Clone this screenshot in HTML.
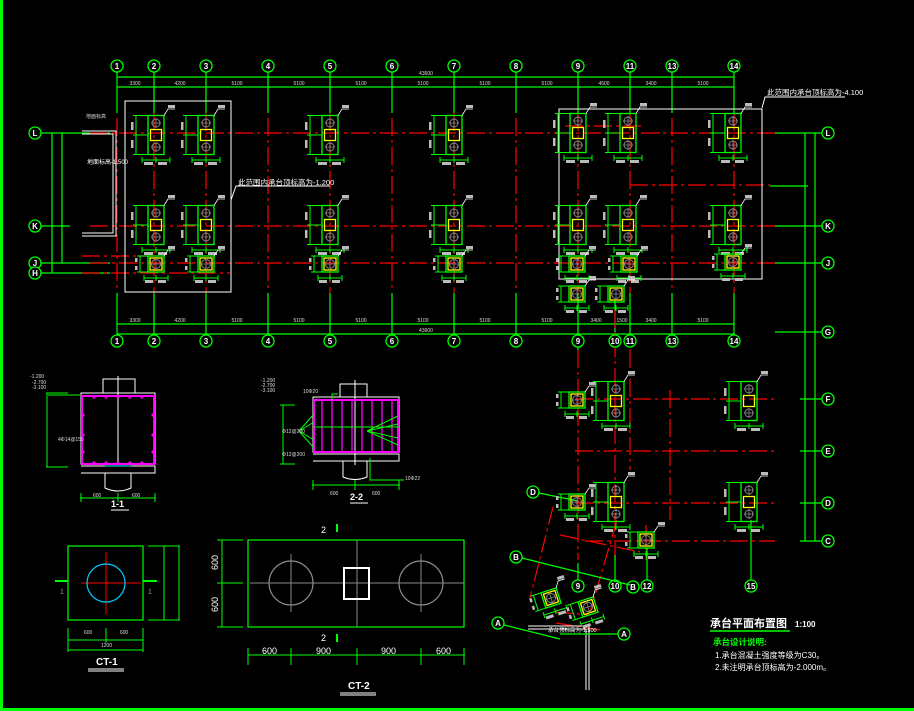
<!DOCTYPE html>
<html><head><meta charset="utf-8"><style>
html,body{margin:0;padding:0;background:#000;}
svg{display:block}
text{font-family:"Liberation Sans","Noto Sans CJK SC",sans-serif;}
</style></head><body>
<svg width="914" height="711" viewBox="0 0 914 711" xmlns="http://www.w3.org/2000/svg">
<defs>
<g id="ct2">
 <rect x="-8" y="-19.5" width="16" height="39" fill="none" stroke="#0f0" stroke-width="1.3"/>
 <rect x="-5.5" y="-5.5" width="11" height="11" fill="none" stroke="#ff0" stroke-width="1.3"/>
 <circle cx="0" cy="-12" r="4" fill="none" stroke="#888" stroke-width="1"/>
 <circle cx="0" cy="12" r="4" fill="none" stroke="#888" stroke-width="1"/>
 <path d="M-5 -12H5M0 -17V-7M-5 12H5M0 7V17" stroke="#888" stroke-width="0.8"/>
 <path d="M-20 -19.5V19.5M-23 -19.5H-8M-23 0H-8M-23 19.5H-8M-14 25H14M-14 22V28M0 22V28M14 22V28" stroke="#0f0" stroke-width="1"/>
 <rect x="-25" y="-13" width="2.5" height="8" fill="#bbb"/><rect x="-25" y="5" width="2.5" height="8" fill="#bbb"/>
 <rect x="-12" y="27" width="9" height="3" fill="#bbb"/><rect x="2" y="27" width="9" height="3" fill="#bbb"/>
 <path d="M8 -19.5L12 -26H19" stroke="#fff" stroke-width="0.8" fill="none"/>
 <rect x="12" y="-30" width="7" height="3" fill="#bbb"/>
</g>
<g id="ct1">
 <rect x="-8" y="-8" width="16" height="16" fill="none" stroke="#0f0" stroke-width="1.3"/>
 <rect x="-6" y="-6" width="12" height="12" fill="none" stroke="#ff0" stroke-width="1.3"/>
 <circle cx="0" cy="0" r="4.5" fill="none" stroke="#888" stroke-width="1"/>
 <path d="M-6 0H6M0 -6V6" stroke="#888" stroke-width="0.8"/>
 <path d="M-16 -8V8M-19 -8H-8M-19 8H-8M-12 14H12M-12 11V17M0 11V17M12 11V17" stroke="#0f0" stroke-width="1"/>
 <rect x="-21" y="-6" width="2.5" height="4" fill="#bbb"/><rect x="-21" y="2" width="2.5" height="4" fill="#bbb"/>
 <rect x="-11" y="16" width="8" height="3" fill="#bbb"/><rect x="2" y="16" width="8" height="3" fill="#bbb"/>
 <path d="M8 -8L12 -14H19" stroke="#fff" stroke-width="0.8" fill="none"/>
 <rect x="12" y="-18" width="7" height="3" fill="#bbb"/>
</g>
<g id="cl"><circle r="6" fill="#000" stroke="#0f0" stroke-width="1.3"/></g>
</defs>

<rect x="0" y="0" width="3" height="711" fill="#0f0"/>
<rect x="0" y="708" width="914" height="3" fill="#0f0"/>

<g stroke="#0f0" stroke-width="1.2">
 <path d="M117 77H734M117 87H734M117 324H734M117 334H734"/>
 <path d="M117 72V113M154 72V113M206 72V113M268 72V113M330 72V113M392 72V113M454 72V113M516 72V113M578 72V113M630 72V113M672 72V113M734 72V113"/>
 <path d="M117 293V335M154 293V335M206 293V335M268 293V335M330 293V335M392 293V335M454 293V335M516 293V335M578 293V350M615 300V335M630 293V335M672 293V335M734 293V335"/>
 <path d="M41 133H110M41 226H70M41 263H110M41 273H110M52 133V273M62 133V263"/>
 <path d="M775 133H822M775 226H822M775 263H822M775 332H822M800 399H822M800 451H822M800 503H822M800 541H822M805 133V541M815 133V541"/>
 <path d="M770 186H808"/>
</g>
<g stroke="#f00" stroke-width="1.2" stroke-dasharray="18 4 3 4" fill="none">
 <path d="M90 133H775M90 226H775M90 263H775M82 273H230M82 256H155"/>
 <path d="M117 118V292M154 113V293M206 113V293M268 118V292M330 113V293M392 118V292M454 113V293M516 118V292M578 113V293M630 113V293M672 118V292M734 113V293"/>
 <path d="M565 126H643M630 185H770"/>
 <path d="M578 350V560M615 310V560M630 350V470M646 525V560M670 390V520"/>
 <path d="M575 399H775M575 451H775M575 503H775M585 541H775"/>
 <path d="M553 507L530 598M617 520L590 612M555 612L590 615M556 623L600 630"/>
 <path d="M560 535L640 552"/>
</g>
<g stroke="#fff" fill="none" stroke-width="1">
 <rect x="125" y="101" width="106" height="191"/>
 <rect x="559" y="109" width="203" height="170"/>
 <path d="M82 131H116V236H82M82 134H113V233H82"/>
 <path d="M231 200L236 186H330M762 108L765 97H845"/>
 <path d="M528 626H589V690M528 629H586V690"/>
</g>
<g font-size="8" font-weight="bold" fill="#fff" text-anchor="middle">
 <use href="#cl" x="117" y="66"/><text x="117" y="69">1</text>
 <use href="#cl" x="154" y="66"/><text x="154" y="69">2</text>
 <use href="#cl" x="206" y="66"/><text x="206" y="69">3</text>
 <use href="#cl" x="268" y="66"/><text x="268" y="69">4</text>
 <use href="#cl" x="330" y="66"/><text x="330" y="69">5</text>
 <use href="#cl" x="392" y="66"/><text x="392" y="69">6</text>
 <use href="#cl" x="454" y="66"/><text x="454" y="69">7</text>
 <use href="#cl" x="516" y="66"/><text x="516" y="69">8</text>
 <use href="#cl" x="578" y="66"/><text x="578" y="69">9</text>
 <use href="#cl" x="630" y="66"/><text x="630" y="69">11</text>
 <use href="#cl" x="672" y="66"/><text x="672" y="69">13</text>
 <use href="#cl" x="734" y="66"/><text x="734" y="69">14</text>
 <use href="#cl" x="117" y="341"/><text x="117" y="344">1</text>
 <use href="#cl" x="154" y="341"/><text x="154" y="344">2</text>
 <use href="#cl" x="206" y="341"/><text x="206" y="344">3</text>
 <use href="#cl" x="268" y="341"/><text x="268" y="344">4</text>
 <use href="#cl" x="330" y="341"/><text x="330" y="344">5</text>
 <use href="#cl" x="392" y="341"/><text x="392" y="344">6</text>
 <use href="#cl" x="454" y="341"/><text x="454" y="344">7</text>
 <use href="#cl" x="516" y="341"/><text x="516" y="344">8</text>
 <use href="#cl" x="578" y="341"/><text x="578" y="344">9</text>
 <use href="#cl" x="615" y="341"/><text x="615" y="344">10</text>
 <use href="#cl" x="630" y="341"/><text x="630" y="344">11</text>
 <use href="#cl" x="672" y="341"/><text x="672" y="344">13</text>
 <use href="#cl" x="734" y="341"/><text x="734" y="344">14</text>
 <use href="#cl" x="35" y="133"/><text x="35" y="136">L</text>
 <use href="#cl" x="35" y="226"/><text x="35" y="229">K</text>
 <use href="#cl" x="35" y="263"/><text x="35" y="266">J</text>
 <use href="#cl" x="35" y="273"/><text x="35" y="276">H</text>
 <use href="#cl" x="828" y="133"/><text x="828" y="136">L</text>
 <use href="#cl" x="828" y="226"/><text x="828" y="229">K</text>
 <use href="#cl" x="828" y="263"/><text x="828" y="266">J</text>
 <use href="#cl" x="828" y="332"/><text x="828" y="335">G</text>
 <use href="#cl" x="828" y="399"/><text x="828" y="402">F</text>
 <use href="#cl" x="828" y="451"/><text x="828" y="454">E</text>
 <use href="#cl" x="828" y="503"/><text x="828" y="506">D</text>
 <use href="#cl" x="828" y="541"/><text x="828" y="544">C</text>
 <use href="#cl" x="578" y="586"/><text x="578" y="589">9</text>
 <use href="#cl" x="615" y="586"/><text x="615" y="589">10</text>
 <use href="#cl" x="633" y="587"/><text x="633" y="590">B</text>
 <use href="#cl" x="647" y="586"/><text x="647" y="589">12</text>
 <use href="#cl" x="751" y="586"/><text x="751" y="589">15</text>
 <use href="#cl" x="533" y="492"/><text x="533" y="495">D</text>
 <use href="#cl" x="516" y="557"/><text x="516" y="560">B</text>
 <use href="#cl" x="498" y="623"/><text x="498" y="626">A</text>
 <use href="#cl" x="624" y="634"/><text x="624" y="637">A</text>
</g>
<g stroke="#0f0" stroke-width="1.2">
 <path d="M539 493L578 501M522 558L630 585M504 625L560 639M560 634H618"/>
 <path d="M578 563V580M615 555V580M647 548V580M751 520V580"/>
</g>
<g font-size="5" fill="#ddd" text-anchor="middle">
 <text x="426" y="75">43600</text><text x="426" y="332">43600</text>
 <text x="135" y="85">3300</text><text x="180" y="85">4200</text><text x="237" y="85">5100</text><text x="299" y="85">5100</text><text x="361" y="85">5100</text><text x="423" y="85">5100</text><text x="485" y="85">5100</text><text x="547" y="85">5100</text><text x="604" y="85">4500</text><text x="651" y="85">3400</text><text x="703" y="85">5100</text>
 <text x="135" y="322">3300</text><text x="180" y="322">4200</text><text x="237" y="322">5100</text><text x="299" y="322">5100</text><text x="361" y="322">5100</text><text x="423" y="322">5100</text><text x="485" y="322">5100</text><text x="547" y="322">5100</text><text x="596" y="322">3400</text><text x="622" y="322">1500</text><text x="651" y="322">3400</text><text x="703" y="322">5100</text>
 <text x="96" y="118">地面标高</text>
</g>
<use href="#ct2" x="156" y="135"/><use href="#ct2" x="206" y="135"/><use href="#ct2" x="330" y="135"/><use href="#ct2" x="454" y="135"/><use href="#ct2" x="578" y="133"/><use href="#ct2" x="628" y="133"/><use href="#ct2" x="733" y="133"/>
<use href="#ct2" x="156" y="225"/><use href="#ct2" x="206" y="225"/><use href="#ct2" x="330" y="225"/><use href="#ct2" x="454" y="225"/><use href="#ct2" x="578" y="225"/><use href="#ct2" x="628" y="225"/><use href="#ct2" x="733" y="225"/>
<use href="#ct1" x="156" y="264"/><use href="#ct1" x="206" y="264"/><use href="#ct1" x="330" y="264"/><use href="#ct1" x="454" y="264"/><use href="#ct1" x="577" y="264"/><use href="#ct1" x="629" y="264"/><use href="#ct1" x="733" y="262"/>
<use href="#ct1" x="577" y="294"/><use href="#ct1" x="616" y="294"/>
<use href="#ct1" x="577" y="400"/><use href="#ct2" x="616" y="401"/><use href="#ct2" x="749" y="401"/>
<use href="#ct1" x="577" y="502"/><use href="#ct2" x="616" y="502"/><use href="#ct2" x="749" y="502"/>
<use href="#ct1" x="646" y="540"/>
<use href="#ct1" transform="translate(551 598) rotate(-18)"/>
<use href="#ct1" transform="translate(588 607) rotate(-18)"/>
<g fill="#fff" font-size="7">
 <text x="238" y="185" font-size="7.5">此范围内承台顶标高为-1.200</text>
 <text x="767" y="95" font-size="7.5">此范围内承台顶标高为-4.100</text>
 <text x="87" y="164" font-size="6">地面标高-1.500</text>
 <text x="548" y="632" font-size="5.5">承台顶标高为-1.500</text>
</g>
<text x="710" y="627" fill="#fff" font-size="11" font-weight="bold" font-family="Liberation Serif,Noto Serif CJK SC,serif">承台平面布置图</text>
<text x="795" y="627" fill="#fff" font-size="8" font-weight="bold">1:100</text>
<path d="M710 631H790" stroke="#0f0" stroke-width="1.5"/>
<text x="713" y="645" fill="#0f0" font-size="8.5" font-weight="bold">承台设计说明:</text>
<text x="715" y="658" fill="#fff" font-size="8">1.承台混凝土强度等级为C30。</text>
<text x="715" y="670" fill="#fff" font-size="8">2.未注明承台顶标高为-2.000m。</text>

<g fill="none">
 <path d="M103 393V379H135V393M118 376V462" stroke="#fff" stroke-width="1"/>
 <rect x="81" y="393" width="74" height="71" stroke="#fff" stroke-width="1"/>
 <rect x="82" y="396" width="72" height="68" stroke="#f0f" stroke-width="2"/>
 <path d="M81 466H155V473H81" stroke="#fff" stroke-width="1"/>
 <path d="M105 473V488Q118 494 131 488V473" stroke="#fff"/>
 <path d="M105 466H131" stroke="#0ff"/>
 <path d="M46 393H68M46 467H68M47 393V467M80 498H156M81 493V502M118 493V502M155 493V502M80 395H48" stroke="#0f0" stroke-width="1"/>
</g>
<g fill="#f0f"><circle cx="94" cy="397" r="1.6"/><circle cx="106" cy="397" r="1.6"/><circle cx="118" cy="397" r="1.6"/><circle cx="130" cy="397" r="1.6"/><circle cx="142" cy="397" r="1.6"/><circle cx="94" cy="463" r="1.6"/><circle cx="106" cy="463" r="1.6"/><circle cx="118" cy="463" r="1.6"/><circle cx="130" cy="463" r="1.6"/><circle cx="142" cy="463" r="1.6"/><circle cx="83" cy="415" r="1.6"/><circle cx="83" cy="435" r="1.6"/><circle cx="83" cy="452" r="1.6"/><circle cx="153" cy="415" r="1.6"/><circle cx="153" cy="435" r="1.6"/><circle cx="153" cy="452" r="1.6"/></g>
<g fill="#ddd" font-size="5"><text x="30" y="378">-1.200</text><text x="32" y="384">-2.700</text><text x="32" y="389">-3.100</text><text x="58" y="441">4Φ14@150</text><text x="93" y="497">600</text><text x="132" y="497">600</text></g>
<text x="111" y="507" fill="#fff" font-size="9" font-weight="bold">1-1</text>
<path d="M111 510H129" stroke="#fff"/>

<g fill="none">
 <path d="M340 397V384H367V397M355 380V465" stroke="#fff"/>
 <rect x="313" y="397" width="86" height="55" stroke="#fff"/>
 <rect x="314" y="400" width="84" height="52" stroke="#f0f" stroke-width="2"/>
 <path d="M322 400V452M332 400V452M342 400V452M352 400V452M362 400V452M372 400V452M382 400V452M392 400V452" stroke="#f0f" stroke-width="1.3"/>
 <path d="M313 454H399V461H313" stroke="#fff"/>
 <path d="M343 461V477Q355 482 367 477V461" stroke="#fff"/>
 <path d="M313 427H399M299 431L314 414M299 431L314 440M299 431L314 422M299 431L314 448M367 431L398 416M367 431L398 445M367 431L398 424M367 431L398 438M280 405H295M283 405V464M280 464H295M312 485H400M313 480V490M355 480V490M399 480V490M370 458V480H404M370 458V480M332 400V394H338" stroke="#0f0" stroke-width="1"/>
</g>
<g fill="#ddd" font-size="5"><text x="261" y="382">-1.200</text><text x="261" y="387">-2.700</text><text x="261" y="392">-3.100</text><text x="303" y="393">10Φ20</text><text x="282" y="433">Φ12@200</text><text x="282" y="456">Φ12@200</text><text x="405" y="480">10Φ22</text><text x="330" y="495">600</text><text x="372" y="495">600</text></g>
<text x="350" y="500" fill="#fff" font-size="9" font-weight="bold">2-2</text>
<path d="M350 503H368" stroke="#fff"/>

<rect x="68" y="546" width="75" height="74" fill="none" stroke="#0f0" stroke-width="1.2"/>
<path d="M81 583H141M106 552V614" stroke="#f00"/>
<circle cx="106" cy="583" r="19" fill="none" stroke="#0cf" stroke-width="1.2"/>
<path d="M55 581H68M143 581H157" stroke="#0f0" stroke-width="2"/>
<path d="M148 546H180M148 620H180M164 546V620M179 546V620M68 640H143M68 650H143M68 628V652M106 628V643M143 628V652" stroke="#0f0"/>
<g fill="#ddd" font-size="5"><text x="84" y="634">600</text><text x="120" y="634">600</text><text x="101" y="647">1200</text><text x="60" y="594" font-size="7" fill="#999">1</text><text x="148" y="594" font-size="7" fill="#999">1</text></g>
<text x="96" y="665" fill="#fff" font-size="10" font-weight="bold">CT-1</text>
<path d="M88 669H124M88 671H124" stroke="#fff"/>

<rect x="248" y="540" width="216" height="87" fill="none" stroke="#0f0" stroke-width="1.2"/>
<path d="M250 583H464M357 540V627M291 554V612M421 554V612" stroke="#888"/>
<circle cx="291" cy="583" r="22" fill="none" stroke="#888" stroke-width="1.2"/>
<circle cx="421" cy="583" r="22" fill="none" stroke="#888" stroke-width="1.2"/>
<rect x="344" y="568" width="25" height="31" fill="none" stroke="#fff" stroke-width="2"/>
<path d="M217 540H243M217 583H243M217 627H243M222 540V627M248 655H465M248 648V665M291 648V665M357 648V665M421 648V665M464 648V665" stroke="#0f0"/>
<path d="M337 524V532M337 634V642" stroke="#0f0" stroke-width="2"/>
<g fill="#fff" font-size="9"><text x="321" y="533">2</text><text x="321" y="641">2</text><text x="262" y="654">600</text><text x="316" y="654">900</text><text x="381" y="654">900</text><text x="436" y="654">600</text>
<text transform="translate(218 570) rotate(-90)">600</text><text transform="translate(218 612) rotate(-90)">600</text></g>
<text x="348" y="689" fill="#fff" font-size="10" font-weight="bold">CT-2</text>
<path d="M340 693H376M340 695H376" stroke="#fff"/>
</svg>
</body></html>
